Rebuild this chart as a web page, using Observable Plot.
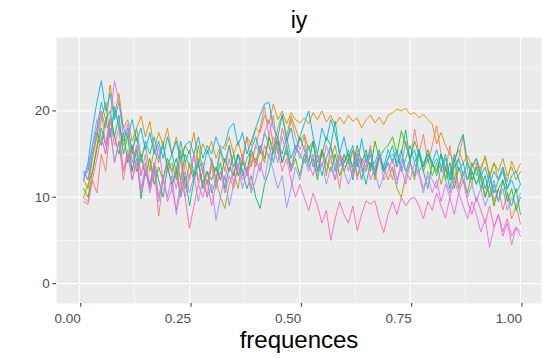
<!DOCTYPE html>
<html>
<head>
<meta charset="utf-8">
<script src="https://cdn.jsdelivr.net/npm/d3@7"></script>
<script src="https://cdn.jsdelivr.net/npm/@observablehq/plot@0.6"></script>
<style>
  html, body { margin: 0; padding: 0; background: #ffffff; }
  #chart svg { display: block; }
</style>
</head>
<body>
<div id="chart"></div>
<script>
// Fourier frequencies (x grid)
const freq = [0.01,0.02,0.03,0.04,0.05,0.06,0.07,0.08,0.09,0.10,
  0.11,0.12,0.13,0.14,0.15,0.16,0.17,0.18,0.19,0.20,
  0.21,0.22,0.23,0.24,0.25,0.26,0.27,0.28,0.29,0.30,
  0.31,0.32,0.33,0.34,0.35,0.36,0.37,0.38,0.39,0.40,
  0.41,0.42,0.43,0.44,0.45,0.46,0.47,0.48,0.49,0.50,
  0.51,0.52,0.53,0.54,0.55,0.56,0.57,0.58,0.59,0.60,
  0.61,0.62,0.63,0.64,0.65,0.66,0.67,0.68,0.69,0.70,
  0.71,0.72,0.73,0.74,0.75,0.76,0.77,0.78,0.79,0.80,
  0.81,0.82,0.83,0.84,0.85,0.86,0.87,0.88,0.89,0.90,
  0.91,0.92,0.93,0.94,0.95,0.96,0.97,0.98,0.99,1.00];

const s1 = [9.5,9.2,12,10.5,15,13,18,14,16.5,12,
  15,13,16,12.5,14,11,13.5,7.8,12,14,
  11,13.5,10.5,14,12,15,11.5,13,10,14.5,
  12,15.5,13,16,12.5,15,14,17,13.5,16,
  18,20.5,17,19.5,15,18,16,19,17,15.5,
  17,14,16.5,13,15.5,12.5,16,14,11,15,
  13,15.5,12,14.5,13.5,16,12.5,15,13,14,
  12,15,13.5,16.5,14,17.9,15,17.3,14,16,
  18.3,15,13,16,12,14.5,17.1,13,11.5,14,
  12,10,13,9.5,11,8.5,10.5,7.5,9,6.9];
const s2 = [12,11,14.5,17,20,18,23,19.5,22,18,
  19,16.5,18,19.4,17,18.8,15.5,17.5,16,18,
  15,17,14.5,16,15,17.5,14,16.2,15,16.5,
  14.5,16,15.5,17,15,16.5,14.5,17,16,18,
  17.5,19.5,18.5,20.8,19,20,18.5,19.8,19,18.6,
  19.2,18.5,19.8,19,20,18.7,19.5,18.3,19.3,18.5,
  19.5,18.8,19.2,18,19,19.5,18.6,19.3,18.4,19.5,
  19.8,20.2,20,20.3,19.6,19.8,19.2,19.6,19,18.5,
  16.2,17.5,16,15,14.2,15.5,14,14.8,13.5,14.5,
  13,14.8,12.5,14,12,13.5,11.8,14.2,12.8,13.9];
const s3 = [10,11.5,13,16,19,21,17,20,18.5,16,
  17.5,15,18,14.5,16,13,15.5,14,16.5,13,
  14,12,15.5,11,14,12.5,16,13,11.5,14,
  12,10,8.7,11.5,13,11,14.5,12.5,15,13.5,
  15.5,14,17,15.5,18,19.6,17,19.4,18,16.5,
  17.3,15.5,16.5,14,15.5,13,14.5,16,13.5,15,
  14,15.5,12.5,14,13,15,12,14.5,13.5,12,
  13.5,11,10,12.5,14,12,15,13,14.5,12.5,
  14,11.5,13.5,12,14.5,11,13,12,14,12.5,
  13.5,14.6,12.3,14,13,14.5,12.5,13.5,12,13];
const s4 = [11,10,13,15.5,18,16,19,17,15,17.5,
  14,16,13,15,12.5,14.5,11.5,13.5,12,14.5,
  13,14.5,12,15,13.5,12,14,11,13,12,
  13.5,12,14.5,13,15,12.5,14,13,15.5,14,
  16,14.5,17,15,16.5,14,15.5,13,14.5,12.5,
  15,13.5,14.5,12,15.5,14,13,15,12.5,14,
  15,13.5,16,14,15.5,13,16.5,14.5,15.5,16,
  17,15,17.7,16,14.5,16.5,15,13.5,15.5,14,
  13,15,12,14,11,13.5,12,10.5,13,11.5,
  12.5,10,11.5,9,11,12,9.5,11,8.5,10];
const s5 = [13,12,15,17.5,16,19,20,17,19.5,15,
  17,13,15.5,9.8,13,11.5,14,12,10,13.5,
  11.5,13,10,12.5,9,12,14,11.5,13,10.5,
  12,14,11,13.5,12.5,15,13,11,12.5,10,
  8.7,11.5,13,15.5,17,14,16,13.5,15,17,
  15.5,14,16.5,13,15,17,16,18.8,15,13,
  14.5,12,15,13.5,11.5,14,12.5,15,13,14.5,
  16,13.5,15,17.8,14,12.5,15.5,13,11,14,
  12.5,15,13.5,11,14,16,17.3,14,12,13.5,
  11,12.5,10,11.5,9.5,12,10.5,9,11,8];
const s6 = [12.5,13,16,18,21,19,17,20.5,18,16.5,
  18,15.5,17,14,16.5,15,17,14.5,16,13.5,
  15,13,16.5,14,15.5,12.5,14.5,13,15.5,14,
  13,15.5,14,16,13.5,15,12.5,14.5,15.5,17,
  15,17.5,16,14,16.5,15,17,14.5,16,15,
  14,16,13.5,15,12.5,14.5,16,13,15,14,
  15.5,13,14.5,12,15,13.5,14,15.5,13,14.5,
  15,14,15.5,13,14.5,15.5,13,14,15,13.5,
  14.5,13,15,12,13.5,14.5,12.5,14,13,11.5,
  13,11,12.5,10.5,12,13,11,12,10.5,11.5];
const s7 = [12,14,18,21,23.5,20,22,19,21,18,
  17,19,16.5,18,15.5,17.5,15,16.5,14.5,17,
  15,16.5,14,16,16.5,15,17,14.5,16,15,
  17,15.5,16,18,18.6,16,17.5,15,16.5,18,
  19.5,20.8,21,18,17,19.5,16.5,18,15.5,17,
  18.5,20,17,15,18,16.5,19,17.5,15,17,
  14.5,16,13.5,16.8,14,15.5,13,15,13.5,15.5,
  14,15.5,13,14.5,16,14,15.5,13.5,15,14,
  15.5,13.5,14.5,12.5,15,13,14,12,13.5,14.5,
  12.5,13.5,11.5,13,12,13.5,11,12.5,13,11.5];
const s8 = [12,13.5,16,19,17,15,18,14,16.5,13,
  15,12,14.5,11,13.5,10.5,13,9.5,12,10,
  12.5,8,11,13,10.5,12.5,9.5,12,10,11.5,
  7.3,10,12.5,9,11.5,13.5,11,13,10.5,12,
  14,12,15,13,11,12.5,8.8,11,13.5,12,
  14.5,13,15,12.5,14,11.5,13.5,12,14.5,13,
  11.5,13,14.5,12,13.5,15,13,11,12.5,14,
  13,11.5,14.5,13,12,14,12.5,10.5,13,12,
  11,13.5,12,10.5,12.5,11,13,10,11.5,9.5,
  11,9,10.5,12,9.5,11,8.5,10,9,10.5];
const s9 = [13,12,15,17.5,20,16,19,23.5,21,17,
  18.5,14,16,12.5,15,11,13.5,16,12,14,
  13,11,14.5,10,12.5,15,12,14,11.5,13.5,
  11,13,12,14.5,11.5,13.5,15,12.5,14,16,
  15,17.5,19,16,14,17,15,13,16,14.5,
  16,14,12.5,15,13.5,16,14.5,12,15,13.5,
  14,12.5,15.5,13,14.5,12,13.5,15,12,13,
  14.5,12,13.5,11.5,14,12.5,13,11,12.5,10.5,
  12,9.5,11.5,10,8,10.5,9,7.5,9.5,8,
  6,7.5,4.2,6.5,8,5.5,7,4.5,6.5,6];
const s10 = [10,9.5,12,14.5,17,15,19,16,18,13,
  15.5,12,14,10.5,13,11,14,10,12.5,9.5,
  11,8.5,12,10,6.4,9,11.5,10,12,9,
  11.5,13,10.5,12.5,11,14,12,13.5,11,14.5,
  13,16,14.5,17,15.5,13,14.5,12,10,11.5,
  10,8.4,10.5,9,7,8.5,5,7.5,9.5,8,
  7,9,6.1,8,9.6,9.2,9.6,7.5,5.9,8,
  9.5,8,10,9,9.8,10,9,7.5,9.5,8.5,
  10.5,9,7.6,10,11.9,10.5,12,9.5,8,10,
  8.5,7,9,6.5,8,6,7.5,5.5,6.5,5.5];

const seriesNames = ["1","2","3","4","5","6","7","8","9","10"];
const seriesColors = ["#F8766D","#D89000","#A3A500","#39B600","#00BF7D",
                      "#00BFC4","#00B0F6","#9590FF","#E76BF3","#FF62BC"];
const xTicks = [0, 0.25, 0.5, 0.75, 1];
const xMinor = [0.125, 0.375, 0.625, 0.875];
const yTicks = [0, 10, 20];
const yMinor = [5, 15, 25];
const titleText = "iy";
const xLabel = "frequences";

const allSeries = [s1,s2,s3,s4,s5,s6,s7,s8,s9,s10];
const data = allSeries.flatMap((vals, k) =>
  vals.map((v, i) => ({f: freq[i], v, g: seriesNames[k]})));

const font = "'Liberation Sans', Arial, sans-serif";

const chart = Plot.plot({
  width: 549,
  height: 359,
  marginTop: 37,
  marginBottom: 56,
  marginLeft: 56,
  marginRight: 8,
  style: {background: "#ffffff", fontFamily: font, overflow: "visible"},
  x: {domain: [-0.0515, 1.0476]},
  y: {domain: [-2.3, 28.5]},
  color: {domain: seriesNames, range: seriesColors},
  marks: [
    Plot.frame({fill: "#EBEBEB", stroke: null}),
    Plot.gridX(xMinor, {stroke: "#ffffff", strokeOpacity: 1, strokeWidth: 0.55}),
    Plot.gridY(yMinor, {stroke: "#ffffff", strokeOpacity: 1, strokeWidth: 0.55}),
    Plot.gridX(xTicks, {stroke: "#ffffff", strokeOpacity: 1, strokeWidth: 1.1}),
    Plot.gridY(yTicks, {stroke: "#ffffff", strokeOpacity: 1, strokeWidth: 1.1}),
    Plot.line(data, {x: "f", y: "v", z: "g", stroke: "g", strokeWidth: 0.9}),
    Plot.axisX(xTicks, {tickSize: 3.7, tickPadding: 6.5, tickFormat: d3.format(".2f"),
      textAnchor: "end", dx: 1.5,
      fontSize: 13.5, fill: "#4D4D4D", stroke: "#333333", label: null}),
    Plot.axisY(yTicks, {tickSize: 3.7, tickPadding: 3, tickFormat: d3.format("d"),
      fontSize: 13.5, fill: "#4D4D4D", stroke: "#333333", label: null}),
    Plot.text([xLabel], {frameAnchor: "bottom", lineAnchor: "bottom", dy: 44,
      fontSize: 24, fill: "#000000", text: d => d}),
    Plot.text([titleText], {frameAnchor: "top", lineAnchor: "bottom", dy: -10,
      fontSize: 23, fill: "#000000", text: d => d})
  ]
});
document.getElementById("chart").appendChild(chart);
</script>
</body>
</html>
